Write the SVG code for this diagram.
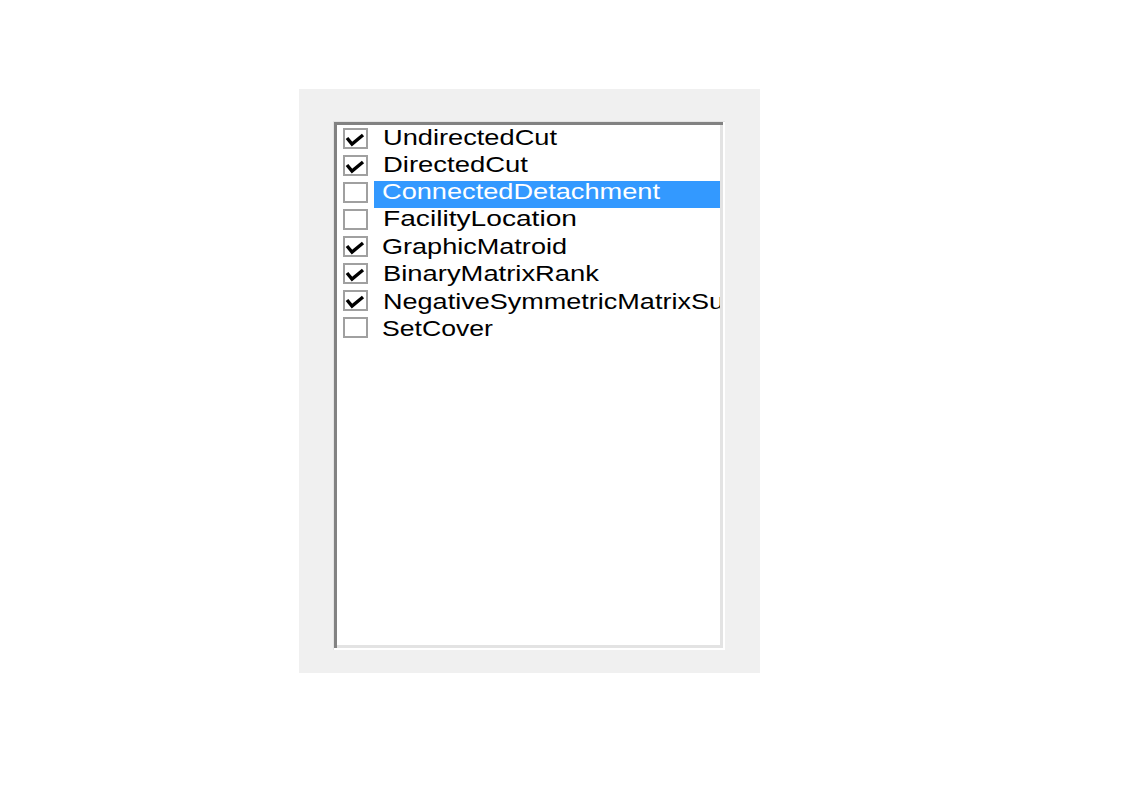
<svg xmlns="http://www.w3.org/2000/svg" width="1135" height="793" viewBox="0 0 1135 793">
<style>
.t{font-family:"Liberation Sans",Arial,sans-serif;font-size:22px;fill:#000}
.sel{fill:#fff}
.cb{fill:#fff;stroke:#a0a0a0;stroke-width:2}
.ck{fill:none;stroke:#000;stroke-width:3.4;stroke-linejoin:miter;stroke-linecap:butt}
</style>
<defs>
<clipPath id="listclip"><rect x="337" y="125" width="383" height="520"/></clipPath>
</defs>
<rect x="0" y="0" width="1135" height="793" fill="#fff"/>
<g id="panel">
<rect x="299" y="89" width="461" height="584" fill="#f0f0f0"/>
</g>
<g id="listbox">
<rect x="333" y="121" width="392" height="529" fill="#fff"/>
<rect x="333" y="121" width="392" height="1" fill="#e3e3e3"/>
<rect x="333" y="121" width="1" height="529" fill="#e3e3e3"/>
<rect x="334" y="122" width="389" height="3" fill="#828282"/>
<rect x="334" y="122" width="3" height="526" fill="#828282"/>
<rect x="720" y="125" width="3" height="523" fill="#e3e3e3"/>
<rect x="337" y="645" width="386" height="3" fill="#e3e3e3"/>
<rect x="337" y="125" width="383" height="520" fill="#fff"/>
</g>
<g clip-path="url(#listclip)">
<g id="highlight"><rect x="374" y="181" width="346" height="27" fill="#3399ff"/></g>
<g id="item1"><rect class="cb" x="344" y="129" width="23" height="19"/><polyline class="ck" points="347,138 352,144 363,135"/>
<text class="t" x="383" y="144.5" textLength="174" lengthAdjust="spacingAndGlyphs">UndirectedCut</text></g>
<g id="item2"><rect class="cb" x="344" y="156" width="23" height="19"/><polyline class="ck" points="347,165 352,171 363,162"/>
<text class="t" x="383" y="171.8" textLength="145" lengthAdjust="spacingAndGlyphs">DirectedCut</text></g>
<g id="item3"><rect class="cb" x="344" y="183" width="23" height="19"/>
<text class="t sel" x="382" y="199.1" textLength="278" lengthAdjust="spacingAndGlyphs">ConnectedDetachment</text></g>
<g id="item4"><rect class="cb" x="344" y="210" width="23" height="19"/>
<text class="t" x="383" y="226.4" textLength="194" lengthAdjust="spacingAndGlyphs">FacilityLocation</text></g>
<g id="item5"><rect class="cb" x="344" y="237" width="23" height="19"/><polyline class="ck" points="347,246 352,252 363,243"/>
<text class="t" x="382" y="253.9" textLength="185" lengthAdjust="spacingAndGlyphs">GraphicMatroid</text></g>
<g id="item6"><rect class="cb" x="344" y="264" width="23" height="19"/><polyline class="ck" points="347,273 352,279 363,270"/>
<text class="t" x="383" y="281.2" textLength="216" lengthAdjust="spacingAndGlyphs">BinaryMatrixRank</text></g>
<g id="item7"><rect class="cb" x="344" y="291" width="23" height="19"/><polyline class="ck" points="347,300 352,306 363,297"/>
<text class="t" x="383" y="308.5" textLength="341" lengthAdjust="spacingAndGlyphs">NegativeSymmetricMatrixSu</text></g>
<g id="item8"><rect class="cb" x="344" y="318" width="23" height="19"/>
<text class="t" x="382" y="335.8" textLength="111" lengthAdjust="spacingAndGlyphs">SetCover</text></g>
</g>
</svg>
